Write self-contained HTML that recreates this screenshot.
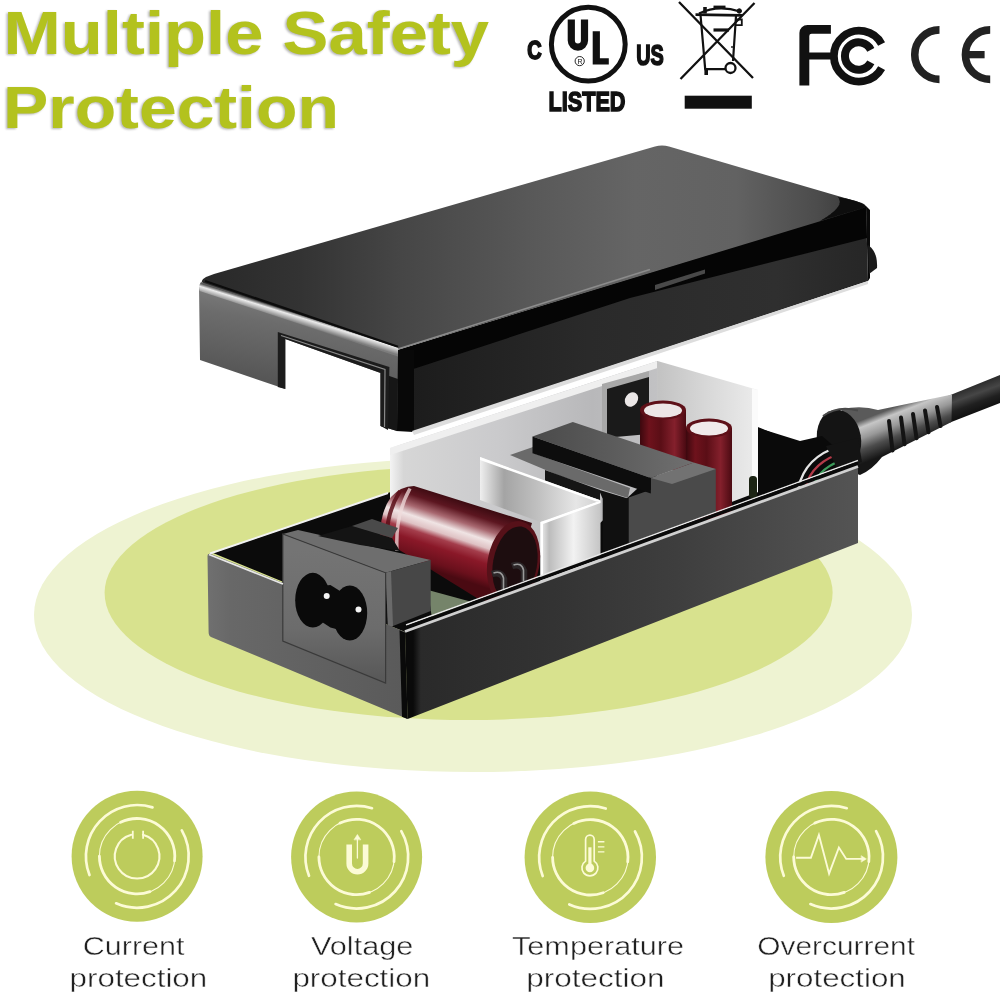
<!DOCTYPE html>
<html>
<head>
<meta charset="utf-8">
<title>Multiple Safety Protection</title>
<style>
html,body{margin:0;padding:0;background:#fff;}
body{width:1000px;height:997px;overflow:hidden;font-family:"Liberation Sans",sans-serif;}
svg{display:block;filter:blur(0.55px);}
.lbl{font-family:"Liberation Sans",sans-serif;font-size:26px;fill:#202020;}
.ttl{font-family:"Liberation Sans",sans-serif;font-weight:bold;font-size:61px;fill:#b3c21e;}
.cert{font-family:"Liberation Sans",sans-serif;font-weight:bold;fill:#111;}
</style>
</head>
<body>
<svg width="1000" height="997" viewBox="0 0 1000 997">
<defs>

<linearGradient id="gTop" gradientUnits="userSpaceOnUse" x1="200" y1="0" x2="870" y2="0">
<stop offset="0" stop-color="#282828"/><stop offset="0.15" stop-color="#333"/><stop offset="0.3" stop-color="#464646"/><stop offset="0.5" stop-color="#595959"/><stop offset="0.65" stop-color="#656565"/><stop offset="0.8" stop-color="#626262"/><stop offset="0.92" stop-color="#4c4c4c"/><stop offset="1" stop-color="#333"/>
</linearGradient>
<linearGradient id="gLidFront" gradientUnits="userSpaceOnUse" x1="230" y1="290" x2="215" y2="370">
<stop offset="0" stop-color="#7c7c7c"/><stop offset="0.3" stop-color="#6c6c6c"/><stop offset="0.7" stop-color="#606060"/><stop offset="1" stop-color="#565656"/>
</linearGradient>
<linearGradient id="gLidSide" gradientUnits="userSpaceOnUse" x1="400" y1="0" x2="870" y2="0">
<stop offset="0" stop-color="#1b1b1b"/><stop offset="0.4" stop-color="#2a2a2a"/><stop offset="0.8" stop-color="#2f2f2f"/><stop offset="1" stop-color="#262626"/>
</linearGradient>
<linearGradient id="gBaseSide" gradientUnits="userSpaceOnUse" x1="405" y1="0" x2="858" y2="0">
<stop offset="0" stop-color="#0a0a0a"/><stop offset="0.018" stop-color="#0a0a0a"/><stop offset="0.035" stop-color="#2a2a2a"/><stop offset="0.3" stop-color="#323232"/><stop offset="0.6" stop-color="#3e3e3e"/><stop offset="0.85" stop-color="#4c4c4c"/><stop offset="1" stop-color="#545454"/>
</linearGradient>
<linearGradient id="gBaseFront" gradientUnits="userSpaceOnUse" x1="207" y1="0" x2="405" y2="0">
<stop offset="0" stop-color="#707070"/><stop offset="0.12" stop-color="#686868"/><stop offset="0.6" stop-color="#606060"/><stop offset="1" stop-color="#5a5a5a"/>
</linearGradient>
<linearGradient id="gSheet" gradientUnits="userSpaceOnUse" x1="390" y1="0" x2="660" y2="0">
<stop offset="0" stop-color="#f4f4f4"/><stop offset="0.05" stop-color="#d6d6d6"/><stop offset="0.4" stop-color="#cacacc"/><stop offset="0.75" stop-color="#b8b8ba"/><stop offset="1" stop-color="#c2c2c4"/>
</linearGradient>
<linearGradient id="gCap" gradientUnits="userSpaceOnUse" x1="462" y1="500" x2="438" y2="572">
<stop offset="0" stop-color="#3a0a10"/><stop offset="0.14" stop-color="#5c1620"/><stop offset="0.28" stop-color="#a86870"/><stop offset="0.4" stop-color="#f0e4e4"/><stop offset="0.5" stop-color="#dfc2c4"/><stop offset="0.58" stop-color="#a43e4c"/><stop offset="0.7" stop-color="#8a1828"/><stop offset="0.9" stop-color="#6a101c"/><stop offset="1" stop-color="#4a0a12"/>
</linearGradient>
<linearGradient id="gSmallCap" gradientUnits="userSpaceOnUse" x1="0" y1="0" x2="46" y2="0">
<stop offset="0" stop-color="#3c080e"/><stop offset="0.2" stop-color="#6e121c"/><stop offset="0.45" stop-color="#5a0e16"/><stop offset="0.75" stop-color="#84202c"/><stop offset="1" stop-color="#4a0a12"/>
</linearGradient>
<linearGradient id="gHsTop" gradientUnits="userSpaceOnUse" x1="480" y1="0" x2="600" y2="0">
<stop offset="0" stop-color="#efefef"/><stop offset="0.2" stop-color="#a4a4a4"/><stop offset="0.5" stop-color="#c2c2c2"/><stop offset="0.8" stop-color="#e6e6e6"/><stop offset="1" stop-color="#d0d0d0"/>
</linearGradient>
<linearGradient id="gHsFront" gradientUnits="userSpaceOnUse" x1="540" y1="0" x2="601" y2="0">
<stop offset="0" stop-color="#f4f4f4"/><stop offset="0.15" stop-color="#bcbcbc"/><stop offset="0.55" stop-color="#f2f2f2"/><stop offset="1" stop-color="#c4c4c4"/>
</linearGradient>
<linearGradient id="gRelief" gradientUnits="userSpaceOnUse" x1="905" y1="403" x2="920" y2="441">
<stop offset="0" stop-color="#5a5a5a"/><stop offset="0.16" stop-color="#c6c6c6"/><stop offset="0.42" stop-color="#989898"/><stop offset="0.68" stop-color="#4c4c4c"/><stop offset="1" stop-color="#161616"/>
</linearGradient>
<linearGradient id="gCable" gradientUnits="userSpaceOnUse" x1="975" y1="385" x2="985" y2="412">
<stop offset="0" stop-color="#2c2c2c"/><stop offset="0.3" stop-color="#464646"/><stop offset="0.6" stop-color="#202020"/><stop offset="1" stop-color="#0c0c0c"/>
</linearGradient>
<linearGradient id="gPanel" gradientUnits="userSpaceOnUse" x1="657" y1="0" x2="758" y2="0"><stop offset="0" stop-color="#c2c2c2"/><stop offset="0.5" stop-color="#d8d8d8"/><stop offset="1" stop-color="#ececec"/></linearGradient>
<linearGradient id="gCore" gradientUnits="userSpaceOnUse" x1="532" y1="0" x2="694" y2="0"><stop offset="0" stop-color="#4a4a4a"/><stop offset="0.5" stop-color="#5c5c5c"/><stop offset="1" stop-color="#707070"/></linearGradient>
<linearGradient id="gBevel" gradientUnits="userSpaceOnUse" x1="300" y1="314.5" x2="297.2" y2="323.5"><stop offset="0" stop-color="#5a5a5a"/><stop offset="0.3" stop-color="#ececec"/><stop offset="0.65" stop-color="#b4b4b4"/><stop offset="1" stop-color="#7c7c7c"/></linearGradient>
<linearGradient id="gPanelS" gradientUnits="userSpaceOnUse" x1="0" y1="550" x2="0" y2="680"><stop offset="0" stop-color="#747474"/><stop offset="0.6" stop-color="#6c6c6c"/><stop offset="1" stop-color="#585858"/></linearGradient>
<filter id="soft" x="-5%" y="-5%" width="110%" height="110%"><feGaussianBlur stdDeviation="0.6"/></filter>

</defs>
<rect width="1000" height="997" fill="#ffffff"/>

<!-- ===== green floor ellipses ===== -->
<g id="floor">
<ellipse cx="473" cy="615" rx="439" ry="157" fill="#eef3d2"/>
<ellipse cx="468.6" cy="593" rx="364" ry="127" fill="#d8e28e"/>
</g>

<!-- ===== title ===== -->
<g id="title">
<filter id="tsh" x="-5%" y="-20%" width="110%" height="140%"><feGaussianBlur stdDeviation="1.3"/></filter>
<g filter="url(#tsh)" opacity="0.45" transform="translate(-1.5,1.5)">
<text class="ttl" x="3.5" y="53.8" textLength="485.6" lengthAdjust="spacingAndGlyphs" style="fill:#555">Multiple Safety</text>
<text class="ttl" x="3" y="127.8" textLength="336" lengthAdjust="spacingAndGlyphs" style="fill:#555;font-size:60px">Protection</text>
</g>
<text class="ttl" x="3.5" y="53.8" textLength="485.6" lengthAdjust="spacingAndGlyphs">Multiple Safety</text>
<text class="ttl" x="3" y="127.8" textLength="336" lengthAdjust="spacingAndGlyphs" style="font-size:60px">Protection</text>
</g>

<!-- ===== certification logos ===== -->
<g id="certs">
<!-- UL -->
<circle cx="588.3" cy="44.2" r="36.9" fill="none" stroke="#111" stroke-width="5"/>
<text class="cert" x="527.2" y="58.5" font-size="25" textLength="14.4" lengthAdjust="spacingAndGlyphs" stroke="#111" stroke-width="1.8">C</text>
<path d="M571.3,19.5 V40.6 a6.6,6.6 0 0 0 13.2,0 V19.5" fill="none" stroke="#111" stroke-width="7.2"/>
<path d="M592.7,31.2 h7.2 v27.1 h8.9 v6.2 h-16.1 z" fill="#111"/>
<circle cx="579.7" cy="61.1" r="4.6" fill="#fff" stroke="#111" stroke-width="0.9"/>
<text class="cert" x="577.4" y="63.8" font-size="7" style="font-weight:normal">R</text>
<text class="cert" x="636.2" y="64.5" font-size="29.5" textLength="27.6" lengthAdjust="spacingAndGlyphs" stroke="#111" stroke-width="1.7">US</text>
<text class="cert" x="548.5" y="110.5" font-size="28.5" textLength="77" lengthAdjust="spacingAndGlyphs" stroke="#111" stroke-width="1.6">LISTED</text>
<!-- WEEE -->
<g fill="none" stroke="#111" stroke-linecap="butt">
<path d="M679,2 L753,78 M754.5,3 L680.5,79" stroke-width="2.3"/>
<path d="M700.6,16 L705.2,69.2 H725 M736,16 L733,61" stroke-width="2.2"/>
<path d="M695.5,14.6 L742,15.4" stroke-width="2.6"/>
<path d="M699,13.5 Q718,4.5 740,11.5" stroke-width="2.2"/>
<path d="M713.5,7.3 h12" stroke-width="3.4"/>
<path d="M705,7 v6.5" stroke-width="3.6"/>
<circle cx="739.3" cy="11" r="2.2" fill="#111" stroke-width="1"/>
<path d="M735.5,19.5 h6.3 v5.6 h-6" stroke-width="1.8"/>
<path d="M713.5,30 h15.5" stroke-width="3.2"/>
<path d="M731,47 h2.5" stroke-width="1.4"/>
<circle cx="730.5" cy="68" r="5" stroke-width="2.3" fill="#fff"/>
<path d="M706.2,70 v5" stroke-width="3.6"/>
</g>
<rect x="684.7" y="95.7" width="67.1" height="13" fill="#111"/>
<!-- FCC -->
<path d="M799.4,85.4 V33 a8.1,8.1 0 0 1 8.1,-8.1 H830.9 V33.7 H811.6 a2.3,2.3 0 0 0 -2.3,2.3 V52.4 H834 V59.6 H809.3 V85.4 Z" fill="#111"/>
<path d="M881.6,44 A25.4,25.4 0 1 0 881.6,68.2" fill="none" stroke="#111" stroke-width="7.8"/>
<path d="M870.8,49.8 A13.7,13.7 0 1 0 870.8,62.4" fill="none" stroke="#111" stroke-width="8"/>
<!-- CE -->
<path d="M939.5,29.9 A24.75,24.75 0 0 0 939.5,79.4" fill="none" stroke="#222" stroke-width="7.6"/>
<path d="M990.2,29.9 A24.75,24.75 0 0 0 990.2,79.4" fill="none" stroke="#222" stroke-width="7.6"/>
<rect x="967" y="51" width="17.6" height="7.3" fill="#222"/>
</g>

<!-- ===== product ===== -->
<g id="product">

<!-- cable + strain relief -->
<path d="M948,396 L1000,375 L1000,403 L950,422.5 Z" fill="url(#gCable)"/>
<path d="M842,409 Q862,405 878,410 L952,394.5 L951.5,422 L882,457 Q872,470 860,475 L846,470 Z" fill="url(#gRelief)"/>
<g stroke="#141414" stroke-width="4" stroke-linecap="round" fill="none">
<path d="M889,421.0 L892.5,450.4"/><path d="M901,417.5 L904.5,444.3"/><path d="M913,414.0 L916.5,438.3"/><path d="M925,410.4 L928.5,432.2"/><path d="M937,406.9 L940.5,426.1"/>
</g>
<ellipse cx="839" cy="439" rx="22" ry="29.5" transform="rotate(-10 839 439)" fill="#141414"/>
<path d="M823,416 Q838,405 858,410.5" fill="none" stroke="#4a4a4a" stroke-width="2"/>

<!-- base interior -->
<path d="M213,553 L388,493 L660,388 L858,467 L405,632 Z" fill="#0b0b0b"/>

<!-- white insulator sheet -->
<path d="M390,448 L657.5,361 L657.5,470 L560,560 L390,520 Z" fill="url(#gSheet)"/>
<path d="M390,448 L657.5,361 L657.5,368 L390,455 Z" fill="#efefef"/>
<path d="M657.5,361 L758,390 L758,492 L657.5,530 Z" fill="url(#gPanel)"/>
<path d="M752,388.5 L758,390 L758,492 L752,494 Z" fill="#fbfbfb"/>
<path d="M657.5,361 V500" stroke="#c4c4c4" stroke-width="1"/>

<!-- far end interior + wires -->
<path d="M758,428 L800,441 L822,436 L858,467 L758,504 Z" fill="#0a0a0a"/>
<g fill="none" stroke-width="2.4" stroke-linecap="round">
<path d="M797,497 Q800,462 832,449" stroke="#e4e4e4"/>
<path d="M804,494 Q808,466 836,455" stroke="#b23a48"/>
<path d="M812,491 Q816,470 840,461" stroke="#3c9a5a"/>
</g>
<path d="M826,446 L858,438 L862,462 L838,470 Z" fill="#141414"/>
<!-- small diode -->
<rect x="749" y="476" width="8" height="22" rx="3.5" fill="#1c2414"/>

<!-- bracket -->
<path d="M604,386 L649,374 L649,434 L604,438 Z" fill="#1a1a1a"/>
<path d="M602,384 L649,371 L649,377 L607,389 L607,438 L602,438 Z" fill="#a8a8a8"/>
<ellipse cx="631.5" cy="399.5" rx="6.2" ry="7.6" fill="#ebe7e7" transform="rotate(35 631.5 399.5)"/>

<!-- small caps -->
<g transform="translate(640,0)">
<path d="M0,410 V470 H46 V410 Z" fill="url(#gSmallCap)"/>
<ellipse cx="23" cy="410" rx="23" ry="9.5" fill="#5e1018"/>
<ellipse cx="23" cy="410.5" rx="19" ry="7" fill="#ece6e6"/>
</g>
<g transform="translate(686,0)">
<path d="M0,428 V520 H46 V428 Z" fill="url(#gSmallCap)"/>
<ellipse cx="23" cy="428" rx="23" ry="9.5" fill="#5e1018"/>
<ellipse cx="23" cy="428.5" rx="19" ry="7" fill="#f0eaea"/>
</g>

<!-- transformer -->
<path d="M510,455 L533,447 L533,453 L630,488 L628,498 L560,476 Z" fill="#6a6a6a"/>
<path d="M598.8,489.7 L628.7,498.8 L628.7,546 L602.7,556 L602.7,498.8 Z" fill="#101010"/>
<path d="M628.7,497.5 L650.8,489.7 L650.8,478 L693.7,463.7 L715.8,468.9 L715.8,512 L628.7,546 Z" fill="#4a4a4a"/>
<path d="M650.8,478 L693.7,462.4 L715.8,468.9 L672,484 Z" fill="#727272"/>
<path d="M532.5,436.4 L572.8,422.1 L693.7,462.4 L650.8,478 Z" fill="url(#gCore)"/>
<path d="M532.5,436.4 L650.8,478 L650.8,493.6 L532.5,453.3 Z" fill="#0d0d0d"/>
<path d="M545,470 L600,490 L600,500 L545,482 Z" fill="#151515"/>

<!-- heat sink -->
<path d="M480,457 L600.5,500.5 L540.5,522 L480,500 Z" fill="url(#gHsTop)"/>
<path d="M480,457 L600.5,500.5 L600.5,503 L480,460 Z" fill="#fff"/>
<path d="M540.5,522 L600.5,500.5 L600.5,577 L540.5,598 Z" fill="url(#gHsFront)"/>
<path d="M540.5,522 L600.5,500.5 L600.5,503 L543,524 L543,598 L540.5,598 Z" fill="#fff"/>

<!-- pcb -->
<path d="M428,590 L472,602 L432,619 Z" fill="#75846a"/>

<!-- big capacitor -->
<path d="M414,486 L532,523 L508,605 L480,600 L380,538 Q380,512 391,497 Q401,486 414,486 Z" fill="url(#gCap)"/>
<path d="M400,491 Q385,515 387,545" fill="none" stroke="#5a0e18" stroke-width="4" opacity="0.85"/>
<path d="M410,488.5 Q395,515 397,551" fill="none" stroke="#f0dcdc" stroke-width="3.5" opacity="0.75"/>
<ellipse cx="513.5" cy="563" rx="26" ry="42.5" transform="rotate(10 513.5 563)" fill="#561119"/>
<ellipse cx="515" cy="564" rx="22" ry="38" transform="rotate(10 515 564)" fill="#1d0d0f"/>
<path d="M492,574 q9,-3 12,5 v16 M512,566 q9,-3 12,5 v14" fill="none" stroke="#2c2628" stroke-width="6.5"/>
<path d="M493.5,573 q8,-3 10,5 v13 M513.5,565 q8,-3 10,5 v11" fill="none" stroke="#9a9a9a" stroke-width="1.6"/>

<!-- socket housing -->
<path d="M282.8,534 L298,530 L430.7,560 L385.6,572.8 Z" fill="#6e6e6e"/>
<path d="M318,536 L352,526 L392,538 L400,551 L360,545 Z" fill="#141414"/>
<path d="M352,526 L372,519 L398,528 L392,538 Z" fill="#4a4a4a"/>
<path d="M385.6,572.8 L430.7,560 L430.7,611 L388,628 Z" fill="#474747"/>
<path d="M385.6,572.8 L391,571.3 L393,626 L388,628 Z" fill="#6a6a6a"/>

<!-- base front face -->
<path d="M207.5,556 Q207.5,552.7 211,554 L405,631.7 L407.6,719 L211,637 Q208.6,636 208.6,632 Z" fill="url(#gBaseFront)"/>
<path d="M282.8,534 L385.6,572.8 L385.6,683 L282.8,641 Z" fill="url(#gPanelS)"/>
<path d="M282.8,534 L385.6,572.8 L385.6,683 L282.8,641 Z" fill="none" stroke="#3a3a3a" stroke-width="1.2"/>
<!-- socket hole -->
<g fill="#0a0a0a"><ellipse cx="312.8" cy="600.2" rx="17.6" ry="27.4"/><ellipse cx="349.8" cy="613" rx="17.4" ry="27.6"/><path d="M322,586 L330.4,585 L340,591 L340,630 L330.4,627.5 L322,622 Z"/></g>
<circle cx="326.7" cy="596" r="3" fill="#f4f4f4"/>
<circle cx="358.5" cy="609.5" r="3" fill="#f4f4f4"/>
<!-- rims -->
<path d="M210,553.5 L388,493" fill="none" stroke="#f2f2f2" stroke-width="2"/>
<path d="M209,554.5 L283,584" fill="none" stroke="#e8e8e8" stroke-width="1.8"/>
<!-- base long side -->
<path d="M405,631.7 L858,466.6 L858,543 L407.6,719 Z" fill="url(#gBaseSide)"/>
<path d="M406,625 L858,460.5" fill="none" stroke="#e8e8e8" stroke-width="1.4"/>
<path d="M405,628 L858,463" fill="none" stroke="#0a0a0a" stroke-width="3.4"/>
<path d="M405,631.5 L858,466.5" fill="none" stroke="#d0d0d0" stroke-width="2.8"/>
<path d="M399.5,630.3 L405,632.5 L407.6,719 L402,716.7 Z" fill="#0a0a0a"/>

<!-- lid -->
<path d="M398,350 L866,206 L868,281 L412,432 L396,431 Z" fill="url(#gLidSide)"/>
<path d="M398,350 L866,206 L867,238 L630,298 L398,374 Z" fill="#050505"/>
<path d="M655,285 L705,269.5 L705,273.5 L655,290 Z" fill="#484848" filter="url(#soft)"/>
<path d="M396,350 L414,350 L414,431 L396,431 Z" fill="#080808"/>
<path d="M412,431 L868,281 L868,284 L414,435 Z" fill="#ddd"/>
<path d="M866,206 L870,210 L870,278 L868,281 Z" fill="#0a0a0a"/>
<path d="M868,245 Q878,252 877,268 L869,274 Z" fill="#1a1a1a"/>
<path d="M199,287 L398,351 L397,431 L380.6,426 L380.6,373 L285.3,339 L285.3,389 L200,360 Z" fill="url(#gLidFront)"/>
<path d="M380.6,373 L398,379 L397,431 L380.6,426 Z" fill="#161616"/>
<path d="M277.8,332 L389.4,367 L388,430 L380.6,426 L380.6,373 L285.3,339 L285.3,389 L277.8,387 Z" fill="#1c1c1c"/>
<path d="M281,335.5 L385,369.5 L384.5,427" fill="none" stroke="#8a8a8a" stroke-width="1.2"/>
<path d="M214,274 L655,146.5 Q662,144.5 669,146.5 L862,203 Q869,206 862,208.5 L400,349 L204,284 Q199,281 206,277 Z" fill="url(#gTop)"/>
<path d="M201,282 L398,347.5 L398,356.5 L199.5,291 Q198,286 201,282 Z" fill="url(#gBevel)"/>
<path d="M205,281 L398,346.8" fill="none" stroke="#0c0c0c" stroke-width="2.2"/>
<path d="M398,349 L650,269.5" fill="none" stroke="#8c8c8c" stroke-width="1.6"/>
<path d="M866,206 Q858,200 838,197 Q846,206 820,221 L862,208.5 Z" fill="#0a0a0a" filter="url(#soft)"/>

</g>

<!-- ===== icons ===== -->
<g id="icons">
<circle cx="137.1" cy="856.2" r="65.5" fill="#bdcc5c"/>
<g fill="none" stroke="#fcfbd6" stroke-linecap="round">
<path d="M89.5,875.0 A51.2,51.2 0 0 1 152.5,807.4 M181.8,830.4 A51.6,51.6 0 0 1 116.1,903.3" stroke-width="2.7"/>
<circle cx="137.1" cy="856.2" r="37.7" stroke-width="1.1"/>
<path d="M120.6,822.3 A37.7,37.7 0 0 1 174.5,860.8 M150.0,891.6 A37.7,37.7 0 0 1 99.4,856.2" stroke-width="2.8"/>
<path d="M142.9,834.7 A22.3,22.3 0 1 1 131.3,834.7" stroke-width="2.1"/>
<path d="M132.79999999999998,830.7 V838.7 M143.1,830.7 V838.7" stroke-width="1.8" stroke-linecap="butt"/>
</g>
<circle cx="356.6" cy="857" r="65.5" fill="#bdcc5c"/>
<g fill="none" stroke="#fcfbd6" stroke-linecap="round">
<path d="M309.0,875.8 A51.2,51.2 0 0 1 372.0,808.2 M401.3,831.2 A51.6,51.6 0 0 1 335.6,904.1" stroke-width="2.7"/>
<circle cx="356.6" cy="857" r="37.7" stroke-width="1.1"/>
<path d="M340.1,823.1 A37.7,37.7 0 0 1 394.0,861.6 M369.5,892.4 A37.7,37.7 0 0 1 318.9,857.0" stroke-width="2.8"/>
<path d="M349.20000000000005,844.5 V863.5 a8.2,8.2 0 0 0 16.4,0 V844.5" stroke-width="5.6" stroke-linecap="butt"/>
<path d="M357.40000000000003,858 V838" stroke-width="1.3"/>
<path d="M354.20000000000005,839.5 L357.40000000000003,834.5 L360.6,839.5 Z" fill="#fcfbd6" stroke-width="0.6"/>
</g>
<circle cx="590.3" cy="857.3" r="65.7" fill="#bdcc5c"/>
<g fill="none" stroke="#fcfbd6" stroke-linecap="round">
<path d="M542.7,876.1 A51.2,51.2 0 0 1 605.7,808.5 M635.0,831.5 A51.6,51.6 0 0 1 569.3,904.4" stroke-width="2.7"/>
<circle cx="590.3" cy="857.3" r="37.7" stroke-width="1.1"/>
<path d="M573.8,823.4 A37.7,37.7 0 0 1 627.7,861.9 M603.2,892.7 A37.7,37.7 0 0 1 552.6,857.3" stroke-width="2.8"/>
<path d="M585.6,861.0999999999999 V839.5 a4.3,4.3 0 0 1 8.6,0 V861.0999999999999 a8,8 0 1 1 -8.6,0 Z" stroke-width="1.7"/>
<circle cx="589.9" cy="867.9" r="4.3" fill="#fcfbd6" stroke="none"/>
<path d="M589.9,865.3 V847.3" stroke-width="3.2" stroke-linecap="butt"/>
<path d="M597.9,841.6999999999999 h6.5 M597.9,846.9 h6.5 M597.9,851.9 h6.5" stroke-width="1.4" stroke-linecap="butt"/>
</g>
<circle cx="831.4" cy="857" r="66" fill="#bdcc5c"/>
<g fill="none" stroke="#fcfbd6" stroke-linecap="round">
<path d="M783.8,875.8 A51.2,51.2 0 0 1 846.8,808.2 M876.1,831.2 A51.6,51.6 0 0 1 810.4,904.1" stroke-width="2.7"/>
<circle cx="831.4" cy="857" r="37.7" stroke-width="1.1"/>
<path d="M814.9,823.1 A37.7,37.7 0 0 1 868.8,861.6 M844.3,892.4 A37.7,37.7 0 0 1 793.7,857.0" stroke-width="2.8"/>
<path d="M796.1,857.8 L810.9,857.8 L818.9,835.0 L829.1,873.7 L838.9,847.5 L846.2,858.9 L862.2,858.9" stroke-width="1.9" stroke-linejoin="miter" stroke-linecap="butt"/>
<path d="M861.4,855.8 L866.4,858.9 L861.4,862 Z" fill="#fcfbd6" stroke-width="0.5"/>
</g>
</g>

<!-- ===== labels ===== -->
<g id="labels">
<g stroke="#fff" stroke-width="0.45">
<text class="lbl" x="82.8" y="955.2" textLength="101.6" lengthAdjust="spacingAndGlyphs">Current</text>
<text class="lbl" x="69.6" y="987.4" textLength="137.6" lengthAdjust="spacingAndGlyphs">protection</text>
<text class="lbl" x="311" y="955.2" textLength="102.4" lengthAdjust="spacingAndGlyphs">Voltage</text>
<text class="lbl" x="292.4" y="987.4" textLength="137.8" lengthAdjust="spacingAndGlyphs">protection</text>
<text class="lbl" x="512" y="955.2" textLength="172" lengthAdjust="spacingAndGlyphs">Temperature</text>
<text class="lbl" x="526.2" y="987.4" textLength="138.4" lengthAdjust="spacingAndGlyphs">protection</text>
<text class="lbl" x="757.2" y="955.2" textLength="157.8" lengthAdjust="spacingAndGlyphs">Overcurrent</text>
<text class="lbl" x="768.2" y="987.4" textLength="137.6" lengthAdjust="spacingAndGlyphs">protection</text>
</g>
</g>
</svg>
</body>
</html>
